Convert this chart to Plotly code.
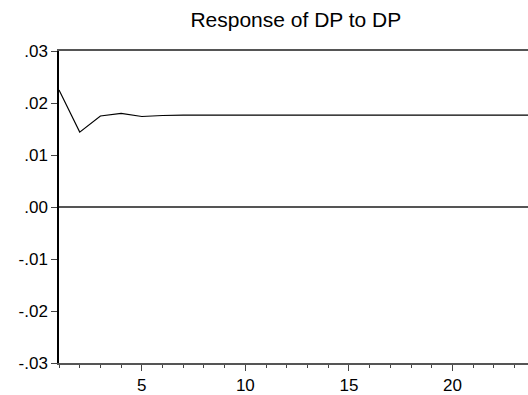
import plotly.graph_objects as go

periods = list(range(1, 25))
response = [0.0225, 0.0144, 0.0175, 0.0180, 0.0174, 0.0176, 0.01765, 0.01765,
            0.01765, 0.01765, 0.01765, 0.01765, 0.01765, 0.01765, 0.01765, 0.01765,
            0.01765, 0.01765, 0.01765, 0.01765, 0.01765, 0.01765, 0.01765, 0.01765]
y_tickvals = [0.03, 0.02, 0.01, 0.0, -0.01, -0.02, -0.03]
y_ticktext = [".03", ".02", ".01", ".00", "-.01", "-.02", "-.03"]
x_tickvals = [5, 10, 15, 20]

fig = go.Figure()
fig.add_trace(go.Scatter(x=periods, y=response, mode="lines",
                         line=dict(color="black", width=1.2), showlegend=False))

font = "Arial, Liberation Sans, sans-serif"
fig.update_layout(
    width=528, height=395,
    margin=dict(l=59, r=0, t=51, b=32),
    paper_bgcolor="white", plot_bgcolor="white",
    title=dict(text="Response of DP to DP", x=0.505, xref="paper", xanchor="center",
               y=1 - 19.5 / 395, yref="container", yanchor="middle",
               font=dict(family=font, size=21, color="black")),
    xaxis=dict(range=[1, 23.65], tickvals=x_tickvals, ticks="outside", ticklen=6,
               tickcolor="#444", showgrid=False, zeroline=False, showline=True,
               linecolor="#555", linewidth=1.5, mirror=True,
               tickfont=dict(family=font, size=17, color="black"),
               minor=dict(tick0=1, dtick=1, ticks="outside", ticklen=3, tickcolor="#444")),
    yaxis=dict(range=[-0.03, 0.03], tickvals=y_tickvals, ticktext=y_ticktext,
               ticks="outside", ticklen=6, tickcolor="#444", showgrid=False,
               zeroline=True, zerolinecolor="#555", zerolinewidth=1.5,
               showline=True, linecolor="black", linewidth=1.5, mirror=False,
               tickfont=dict(family=font, size=17, color="black")),
)

fig.write_html("out.html")
